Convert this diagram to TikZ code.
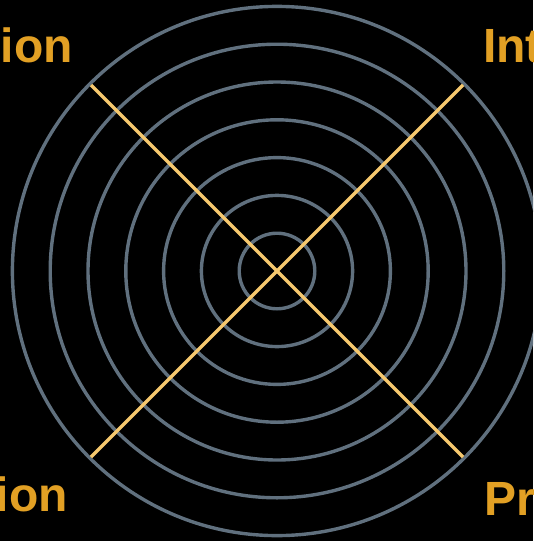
\documentclass[tikz,border=0pt]{standalone}
\usepackage{fontspec}
\setmainfont{Liberation Sans}[BoldFont={Liberation Sans Bold}]
\usetikzlibrary{positioning}
\definecolor{ringgray}{RGB}{96,112,126}
\definecolor{axisyellow}{RGB}{246,200,110}
\definecolor{labelorange}{RGB}{226,160,36}
\tikzset{
  ring/.style={draw=ringgray, line width=3.4pt},
  diag/.style={draw=axisyellow, line width=3.4pt},
  corner label/.style={text=labelorange, font=\fontsize{48}{54}\selectfont\bfseries, inner sep=0pt},
}

\begin{document}
\begin{tikzpicture}[x=1pt, y=-1pt]
  % Background
  \fill[black] (0,0) rectangle (533,541);
  \clip (0,0) rectangle (533,541);

  % Rings
  \coordinate (c) at (277,271);
  \foreach \k in {1,...,7}
    \draw[ring] (c) circle [radius=\k*37.8pt];

  % Diagonals
  \coordinate (nw) at (91,85);
  \coordinate (se) at (463,457);
  \coordinate (sw) at (91,457);
  \coordinate (ne) at (463,85);
  \draw[diag] (nw) -- (se);
  \draw[diag] (sw) -- (ne);

  % Corner labels
  \node[corner label, anchor=base east] (tl) at (73,62) {tion};
  \node[corner label, anchor=base east] (bl) at (68,511) {tion};
  \node[corner label, anchor=base west] (tr) at (483,62) {Int};
  \node[corner label, anchor=base west] (br) at (484,515) {Pr};
\end{tikzpicture}
\end{document}
